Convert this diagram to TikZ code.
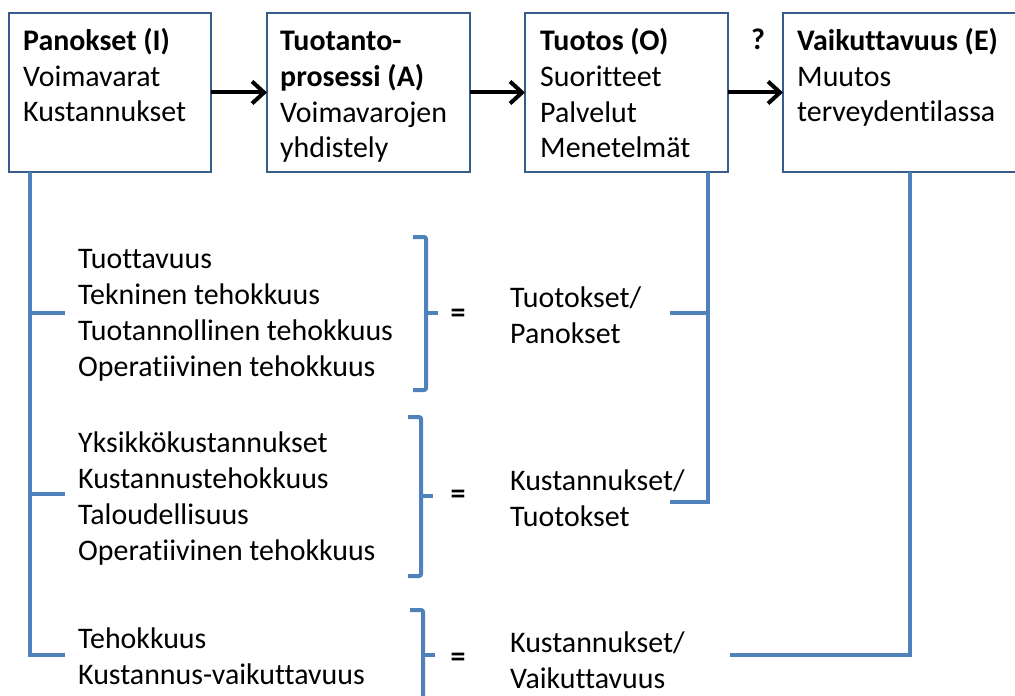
\documentclass[tikz,border=0pt]{standalone}
\usepackage{fontspec}
\setmainfont[Ligatures=NoCommon]{Carlito}
\usetikzlibrary{positioning,arrows.meta}
\definecolor{linkblue}{HTML}{4F81BD}
\definecolor{boxblue}{HTML}{385D8A}

\begin{document}
\begin{tikzpicture}[x=1bp,y=-1bp]
\tikzstyle{every node}+=[inner sep=0pt, font=\fontsize{30}{36}\selectfont]
\tikzstyle{box}=[draw=boxblue, line width=2.5bp, outer sep=0pt, minimum height=159bp, anchor=north west]
\tikzstyle{txt}=[align=left, anchor=base west]
\tikzstyle{arr}=[line width=4bp, -{Straight Barb[length=12bp, width=22bp]}]
\tikzstyle{bus}=[draw=linkblue, line width=4bp]
\useasboundingbox (0,0) rectangle (1015,696);
% boxes (text nodes sit on the baseline of their last line)
\node [box, minimum width=202bp] (panokset) at (9,13) {};
\node [box, minimum width=203bp] (prosessi) at (267,13) {};
\node [box, minimum width=203bp] (tuotos) at (525,13) {};
\node [box, minimum width=240bp] (vaikutus) at (783,13) {};
\node [txt] (panoksetTxt) at (23,122) {\textbf{Panokset (I)}\\Voimavarat\\Kustannukset};
\node [txt] (prosessiTxt) at (280,158) {\textbf{Tuotanto-}\\\textbf{prosessi (A)}\\Voimavarojen\\yhdistely};
\node [txt] (tuotosTxt) at (540,158) {\textbf{Tuotos (O)}\\Suoritteet\\Palvelut\\Menetelmät};
\node [txt] (vaikutusTxt) at (797,122) {\textbf{Vaikuttavuus (E)}\\Muutos\\terveydentilassa};
\node [txt] (kysymys) at (751,50) {\textbf{?}};
\draw [arr] (panokset) -- (prosessi);
\draw [arr] (prosessi) -- (tuotos);
\draw [arr] (tuotos) -- (vaikutus);
% measures
\node [txt] (mittari1) at (78,376) {Tuottavuus\\Tekninen tehokkuus\\Tuotannollinen tehokkuus\\Operatiivinen tehokkuus};
\node [txt] (mittari2) at (78,560) {Yksikkökustannukset\\Kustannustehokkuus\\Taloudellisuus\\Operatiivinen tehokkuus};
\node [txt] (mittari3) at (78,684) {Tehokkuus\\Kustannus-vaikuttavuus};
\node (yht1) at (458,316) {\textbf{=}};
\node (yht2) at (458,497) {\textbf{=}};
\node (yht3) at (458,660) {\textbf{=}};
\node [txt] (suhde1) at (510,343) {Tuotokset/\\Panokset};
\node [txt] (suhde2) at (510,526) {Kustannukset/\\Tuotokset};
\node [txt] (suhde3) at (510,688) {Kustannukset/\\Vaikuttavuus};
% brackets
\draw [bus, rounded corners=2bp] (413,237) -- (426,237) -- (426,390) -- (413,390);
\draw [bus] (426,313) -- (438,313);
\draw [bus, rounded corners=2bp] (408,417) -- (421,417) -- (421,576) -- (408,576);
\draw [bus] (421,496) -- (433,496);
\draw [bus, rounded corners=2bp] (410,610) -- (423,610) -- (423,700);
\draw [bus] (423,655) -- (435,655);
% lines from the boxes
\coordinate (busI) at ([xshift=21bp]panokset.south west);
\coordinate (stubI1) at (65,313);
\coordinate (stubI2) at (65,494);
\coordinate (stubI3) at (65,655);
\draw [bus] (busI) |- (stubI3);
\draw [bus] (busI |- stubI1) -- (stubI1);
\draw [bus] (busI |- stubI2) -- (stubI2);
\coordinate (busO) at ([xshift=-20bp]tuotos.south east);
\coordinate (stubO1) at (670,313);
\coordinate (stubO2) at (670,502);
\draw [bus] (busO) |- (stubO2);
\draw [bus] (busO |- stubO1) -- (stubO1);
\coordinate (busE) at ([xshift=-113bp]vaikutus.south east);
\coordinate (stubE) at (730,655);
\draw [bus] (busE) |- (stubE);
\end{tikzpicture}
\end{document}
